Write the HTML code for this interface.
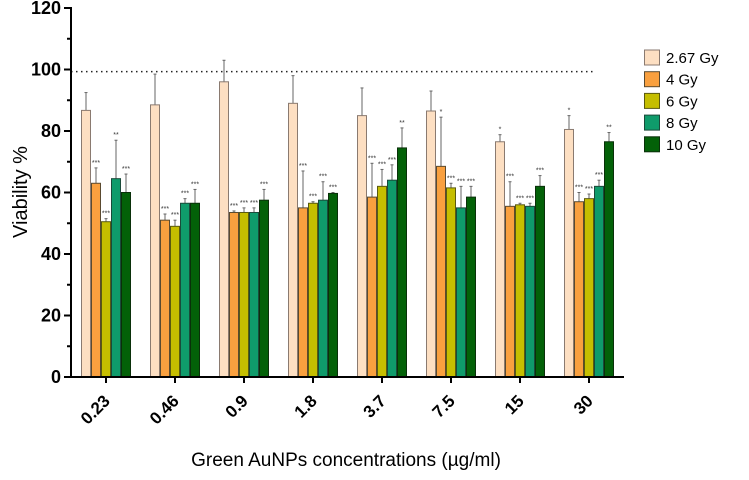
<!DOCTYPE html>
<html><head><meta charset="utf-8"><style>
body{margin:0;background:#fff;width:749px;height:475px;overflow:hidden}
svg text{font-family:"Liberation Sans",Arial,sans-serif}
</style></head><body>
<svg id="chart" width="749" height="475" viewBox="0 0 749 475" xmlns="http://www.w3.org/2000/svg"></svg>
<script>
const categories=["0.23","0.46","0.9","1.8","3.7","7.5","15","30"];
const seriesNames=["2.67 Gy","4 Gy","6 Gy","8 Gy","10 Gy"];
const s267=[86.7,88.5,96,89,85,86.5,76.5,80.5];
const s4=[63,51,53.5,55,58.5,68.5,55.5,57];
const s6=[50.5,49,53.5,56.5,62,61.5,56,58];
const s8=[64.5,56.5,53.5,57.5,64,55,55.5,62];
const s10=[60,56.5,57.5,59.7,74.5,58.5,62,76.5];
const e267=[92.5,98.5,103,98,94,93,78.8,85];
const e4=[68,53,54,67,69.5,84.5,63.5,60];
const e6=[51.5,51,55,57,67.5,63,56.5,59.5];
const e8=[77,58,55,63.5,69,62,56.5,64];
const e10=[66,61,61,60,81,62,65.5,79.5];
const st267=["","","","","","","*","*"];
const st4=["***","***","***","***","***","*","***","***"];
const st6=["***","***","***","***","***","***","***","***"];
const st8=["**","***","***","***","***","***","***","***"];
const st10=["***","***","***","***","**","***","***","**"];
const yTicks=[0,20,40,60,80,100,120];
const refLine=99.3;

const colors=["#FDDFC2","#F9A03F","#C5BE00","#0F9B6B","#036108"];
const strokes=["#8a7a70","#5a4a30","#5a5a10","#1a4a3a","#0a300a"];
const vals=[s267,s4,s6,s8,s10], errs=[e267,e4,e6,e8,e10], stars=[st267,st4,st6,st8,st10];
const X0=71,X1=624,Y0=377,Ymax=8;
const y=v=>Y0-(v/120)*(Y0-Ymax);
const cx=i=>106+i*69;
const BW=10;
const svg=document.getElementById('chart');
const NS="http://www.w3.org/2000/svg";
function mk(t,a,p){const e=document.createElementNS(NS,t);for(const k in a)e.setAttribute(k,a[k]);(p||svg).appendChild(e);return e;}

let rl=mk('line',{x1:X0,x2:X1-30,y1:y(refLine),y2:y(refLine),stroke:'#222','stroke-width':1.5,'stroke-dasharray':'1.5 3.5'});



categories.forEach((c,i)=>{
  vals.forEach((arr,s)=>{
    const x=cx(i)-25+s*BW;
    const ex=x+BW/2;
    let el=mk('line',{x1:ex,x2:ex,y1:y(arr[i]),y2:y(errs[s][i]),stroke:'#666','stroke-width':1});
    
    
    mk('line',{x1:ex-1.5,x2:ex+1.5,y1:y(errs[s][i]),y2:y(errs[s][i]),stroke:'#666','stroke-width':1});
    let r=mk('rect',{x:x+0.5,y:y(arr[i]),width:BW-1,height:Y0-y(arr[i]),fill:colors[s],stroke:strokes[s],'stroke-width':1});
    
    
    if(stars[s][i]){
      let t=mk('text',{x:ex,y:y(errs[s][i])-3,'font-size':7,'text-anchor':'middle',fill:'#333'});
      t.textContent=stars[s][i];
      
      
    }
  });
  mk('line',{x1:cx(i),x2:cx(i),y1:Y0,y2:Y0+6,stroke:'#000','stroke-width':2});
  const lx=cx(i)+5, ly=Y0+25;
  let lt=mk('text',{x:lx,y:ly,'font-size':17,'font-weight':'bold','text-anchor':'end',transform:`rotate(-45 ${lx} ${ly})`});
  lt.textContent=c;
  
  
});

let ya=mk('line',{x1:X0,x2:X0,y1:Ymax-1,y2:Y0+1,stroke:'#000','stroke-width':2});


let xa=mk('line',{x1:X0-1,x2:X1,y1:Y0,y2:Y0,stroke:'#000','stroke-width':2});


for(let v=0;v<=120;v+=10){mk('line',{x1:X0-(v%20?4:7),x2:X0,y1:y(v),y2:y(v),stroke:'#000','stroke-width':2});}
yTicks.forEach(v=>{
  let t=mk('text',{x:X0-10,y:y(v)+6,'font-size':18,'font-weight':'bold','text-anchor':'end'});
  t.textContent=v;
  
  
});
let yt=mk('text',{x:0,y:0,'font-size':20,'text-anchor':'middle',transform:'translate(27 192) rotate(-90)'});
yt.textContent='Viability %';


let xt=mk('text',{x:346,y:466,'font-size':19,'text-anchor':'middle'});
xt.textContent='Green AuNPs concentrations (\u00b5g/ml)';



seriesNames.forEach((n,s)=>{
  const ly=50+s*21.7;
  let g=mk('g',{});
  
  
  mk('rect',{x:644.5,y:ly,width:15,height:15,fill:colors[s],stroke:strokes[s],'stroke-width':1},g);
  let t=mk('text',{x:666,y:ly+13,'font-size':15},g);
  t.textContent=n;
});
</script>
</body></html>
